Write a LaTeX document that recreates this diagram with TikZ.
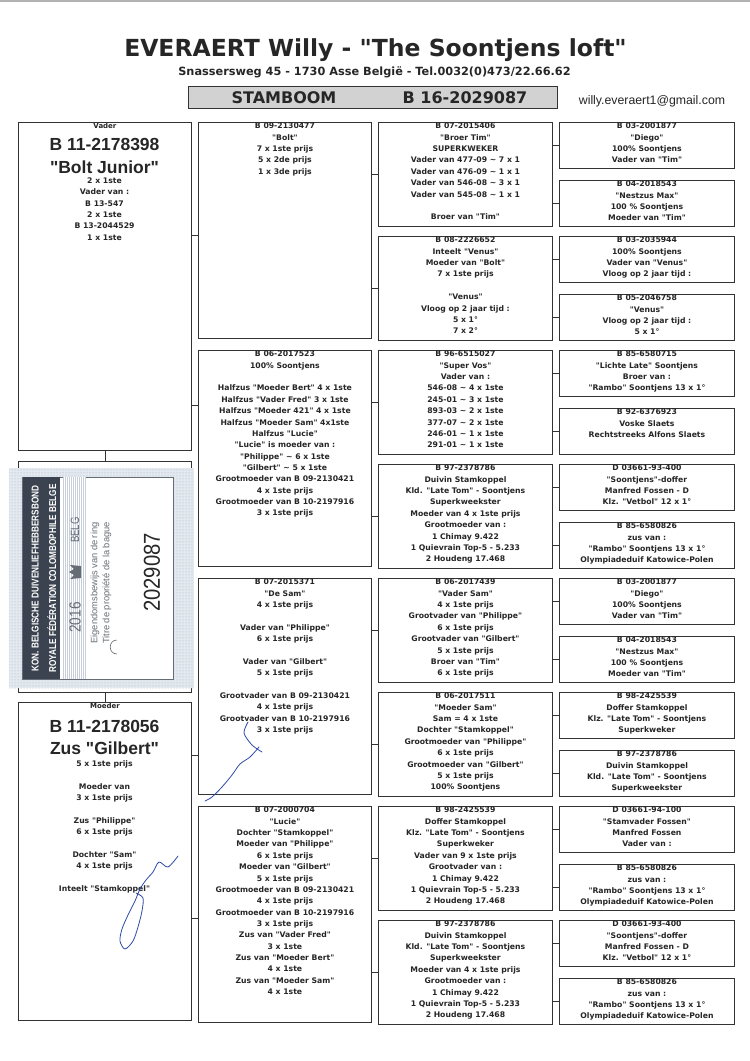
\documentclass[tikz,border=0pt]{standalone}
\usepackage{fontspec}
\setmainfont{DejaVu Sans}[Ligatures=TeXOff]
\newfontfamily\arialfont{Liberation Sans}[Ligatures=TeXOff]
\usetikzlibrary{patterns}

\definecolor{ink}{HTML}{262626}
\definecolor{frame}{HTML}{333333}
\definecolor{headgray}{HTML}{D2D2D2}
\definecolor{stampbg}{HTML}{E4E9EF}
\definecolor{stampdot}{HTML}{9DAFC3}
\definecolor{stampband}{HTML}{3C4350}
\definecolor{stampstrip}{HTML}{C6CFDA}
\definecolor{stampink}{HTML}{666C75}
\definecolor{signblue}{HTML}{2E4AA8}

\newcommand\boxfont{\bfseries\fontsize{7.7}{11.35}\selectfont}
\newcommand\tildech{\textasciitilde}

\begin{document}
\begin{tikzpicture}[x=1pt, y=-1pt,
  box/.style={draw=frame, line width=0.9pt, anchor=north west, inner sep=0pt, minimum width=173pt},
  gp/.style={box, minimum height=216pt},
  ggp/.style={box, minimum width=174pt, minimum height=104pt},
  gggp/.style={box, minimum width=175pt, minimum height=46pt},
  txt/.style={anchor=north, align=center, inner sep=0pt, font=\boxfont, text=ink},
  bignum/.style={anchor=base, inner sep=0pt, text=ink, font=\arialfont\bfseries\fontsize{17.5}{20}\selectfont},
  stamptxt/.style={rotate=90, inner sep=0pt, align=center},
  link/.style={draw=frame, line width=0.9pt},
  sign/.style={draw=signblue, line width=0.8pt, line cap=round}
]
\useasboundingbox (0,0) rectangle (750,1061);
\fill[white] (0,0) rectangle (750,1061);
\fill[black!30] (0,0) rectangle (750,1.5);

% header
\node[anchor=base, inner sep=0pt, text=ink, font=\bfseries\fontsize{23.5}{28}\selectfont] (title) at (375.5,56) {EVERAERT Willy - "The Soontjens loft"};
\node[anchor=base, inner sep=0pt, text=ink, font=\bfseries\fontsize{11.3}{14}\selectfont] (addr) at (374.5,75.5) {Snassersweg 45 - 1730 Asse België - Tel.0032(0)473/22.66.62};
\node[draw=frame, line width=0.9pt, fill=headgray, anchor=north west, inner sep=0pt, minimum width=369pt, minimum height=22pt] (head) at (188,86) {};
\node[anchor=base, inner sep=0pt, text=ink, font=\bfseries\fontsize{16}{20}\selectfont] (stam) at (284,103) {STAMBOOM};
\node[anchor=base, inner sep=0pt, text=ink, font=\bfseries\fontsize{16}{20}\selectfont] (ringnr) at (465,103) {B 16-2029087};
\node[anchor=base, inner sep=0pt, text=ink, font=\arialfont\fontsize{12.3}{14}\selectfont] (mail) at (652,104) {willy.everaert1@gmail.com};

% parents
\node[box, minimum height=328pt] (v) at (18,122) {};
\node[txt, font=\bfseries\fontsize{7}{8}\selectfont] (vlab) at ([yshift=-1pt]v.north) {Vader};
\node[bignum] (vnum) at (104.5,150) {B 11-2178398};
\node[bignum] (vname) at (104.5,173) {"Bolt Junior"};
\node[txt] (vtxt) at (104.5,177.5) {2 x 1ste\\Vader van :\\B 13-547\\2 x 1ste\\B 13-2044529\\1 x 1ste};

\node[box, minimum height=231pt] (kid) at (18,461) {};

\node[box, minimum height=318pt] (m) at (18,702) {};
\node[txt, font=\bfseries\fontsize{7}{8}\selectfont] (mlab) at ([yshift=-1pt]m.north) {Moeder};
\node[bignum] (mnum) at (104.5,732) {B 11-2178056};
\node[bignum] (mname) at (104.5,754.5) {Zus "Gilbert"};
\node[txt] (mtxt) at (104.5,760.5) {5 x 1ste prijs\\[11.35pt]Moeder van\\3 x 1ste prijs\\[11.35pt]Zus "Philippe"\\6 x 1ste prijs\\[11.35pt]Dochter "Sam"\\4 x 1ste prijs\\[11.35pt]Inteelt "Stamkoppel"};

% grandparents
\node[gp] (vv) at (198,122) {};
\node[txt] (vvt) at ([yshift=-1pt]vv.north) {B 09-2130477\\"Bolt"\\7 x 1ste prijs\\5 x 2de prijs\\1 x 3de prijs};
\node[gp] (vm) at (198,350) {};
\node[txt] (vmt) at ([yshift=-1pt]vm.north) {B 06-2017523\\100\% Soontjens\\[11.35pt]Halfzus "Moeder Bert" 4 x 1ste\\Halfzus "Vader Fred" 3 x 1ste\\Halfzus "Moeder 421" 4 x 1ste\\Halfzus "Moeder Sam" 4x1ste\\Halfzus "Lucie"\\"Lucie" is moeder van :\\"Philippe" \tildech{} 6 x 1ste\\"Gilbert" \tildech{} 5 x 1ste\\Grootmoeder van B 09-2130421\\4 x 1ste prijs\\Grootmoeder van B 10-2197916\\3 x 1ste prijs};
\node[gp] (mv) at (198,578) {};
\node[txt] (mvt) at ([yshift=-1pt]mv.north) {B 07-2015371\\"De Sam"\\4 x 1ste prijs\\[11.35pt]Vader van "Philippe"\\6 x 1ste prijs\\[11.35pt]Vader van "Gilbert"\\5 x 1ste prijs\\[11.35pt]Grootvader van B 09-2130421\\4 x 1ste prijs\\Grootvader van B 10-2197916\\3 x 1ste prijs};
\node[gp] (mm) at (198,806) {};
\node[txt] (mmt) at ([yshift=-1pt]mm.north) {B 07-2000704\\"Lucie"\\Dochter "Stamkoppel"\\Moeder van "Philippe"\\6 x 1ste prijs\\Moeder van "Gilbert"\\5 x 1ste prijs\\Grootmoeder van B 09-2130421\\4 x 1ste prijs\\Grootmoeder van B 10-2197916\\3 x 1ste prijs\\Zus van "Vader Fred"\\3 x 1ste\\Zus van "Moeder Bert"\\4 x 1ste\\Zus van "Moeder Sam"\\4 x 1ste};

% great-grandparents
\node[ggp] (vvv) at (378,122) {};
\node[txt] (vvvt) at ([yshift=-1pt]vvv.north) {B 07-2015406\\"Broer Tim"\\SUPERKWEKER\\Vader van 477-09 \tildech{} 7 x 1\\Vader van 476-09 \tildech{} 1 x 1\\Vader van 546-08 \tildech{} 3 x 1\\Vader van 545-08 \tildech{} 1 x 1\\[11.35pt]Broer van "Tim"};
\node[ggp] (vvm) at (378,236) {};
\node[txt] (vvmt) at ([yshift=-1pt]vvm.north) {B 08-2226652\\Inteelt "Venus"\\Moeder van "Bolt"\\7 x 1ste prijs\\[11.35pt]"Venus"\\Vloog op 2 jaar tijd :\\5 x 1°\\7 x 2°};
\node[ggp] (vmv) at (378,350) {};
\node[txt] (vmvt) at ([yshift=-1pt]vmv.north) {B 96-6515027\\"Super Vos"\\Vader van :\\546-08 \tildech{} 4 x 1ste\\245-01 \tildech{} 3 x 1ste\\893-03 \tildech{} 2 x 1ste\\377-07 \tildech{} 2 x 1ste\\246-01 \tildech{} 1 x 1ste\\291-01 \tildech{} 1 x 1ste};
\node[ggp] (vmm) at (378,464) {};
\node[txt] (vmmt) at ([yshift=-1pt]vmm.north) {B 97-2378786\\Duivin Stamkoppel\\Kld. "Late Tom" - Soontjens\\Superkweekster\\Moeder van 4 x 1ste prijs\\Grootmoeder van :\\1 Chimay 9.422\\1 Quievrain Top-5 - 5.233\\2 Houdeng 17.468};
\node[ggp] (mvv) at (378,578) {};
\node[txt] (mvvt) at ([yshift=-1pt]mvv.north) {B 06-2017439\\"Vader Sam"\\4 x 1ste prijs\\Grootvader van "Philippe"\\6 x 1ste prijs\\Grootvader van "Gilbert"\\5 x 1ste prijs\\Broer van "Tim"\\6 x 1ste prijs};
\node[ggp] (mvm) at (378,692) {};
\node[txt] (mvmt) at ([yshift=-1pt]mvm.north) {B 06-2017511\\"Moeder Sam"\\Sam = 4 x 1ste\\Dochter "Stamkoppel"\\Grootmoeder van "Philippe"\\6 x 1ste prijs\\Grootmoeder van "Gilbert"\\5 x 1ste prijs\\100\% Soontjens};
\node[ggp] (mmv) at (378,806) {};
\node[txt] (mmvt) at ([yshift=-1pt]mmv.north) {B 98-2425539\\Doffer Stamkoppel\\Klz. "Late Tom" - Soontjens\\Superkweker\\Vader van 9 x 1ste prijs\\Grootvader van :\\1 Chimay 9.422\\1 Quievrain Top-5 - 5.233\\2 Houdeng 17.468};
\node[ggp] (mmm) at (378,920) {};
\node[txt] (mmmt) at ([yshift=-1pt]mmm.north) {B 97-2378786\\Duivin Stamkoppel\\Kld. "Late Tom" - Soontjens\\Superkweekster\\Moeder van 4 x 1ste prijs\\Grootmoeder van :\\1 Chimay 9.422\\1 Quievrain Top-5 - 5.233\\2 Houdeng 17.468};

% great-great-grandparents
\node[gggp] (vvvv) at (559,122) {};
\node[txt] (vvvvt) at ([yshift=-1pt]vvvv.north) {B 03-2001877\\"Diego"\\100\% Soontjens\\Vader van "Tim"};
\node[gggp] (vvvm) at (559,180) {};
\node[txt] (vvvmt) at ([yshift=-1pt]vvvm.north) {B 04-2018543\\"Nestzus Max"\\100 \% Soontjens\\Moeder van "Tim"};
\node[gggp] (vvmv) at (559,236) {};
\node[txt] (vvmvt) at ([yshift=-1pt]vvmv.north) {B 03-2035944\\100\% Soontjens\\Vader van "Venus"\\Vloog op 2 jaar tijd :};
\node[gggp] (vvmm) at (559,294) {};
\node[txt] (vvmmt) at ([yshift=-1pt]vvmm.north) {B 05-2046758\\"Venus"\\Vloog op 2 jaar tijd :\\5 x 1°};
\node[gggp] (vmvv) at (559,350) {};
\node[txt] (vmvvt) at ([yshift=-1pt]vmvv.north) {B 85-6580715\\"Lichte Late" Soontjens\\Broer van :\\"Rambo" Soontjens 13 x 1°};
\node[gggp] (vmvm) at (559,408) {};
\node[txt] (vmvmt) at ([yshift=-1pt]vmvm.north) {B 92-6376923\\Voske Slaets\\Rechtstreeks Alfons Slaets};
\node[gggp] (vmmv) at (559,464) {};
\node[txt] (vmmvt) at ([yshift=-1pt]vmmv.north) {D 03661-93-400\\"Soontjens"-doffer\\Manfred Fossen - D\\Klz. "Vetbol" 12 x 1°};
\node[gggp] (vmmm) at (559,522) {};
\node[txt] (vmmmt) at ([yshift=-1pt]vmmm.north) {B 85-6580826\\zus van :\\"Rambo" Soontjens 13 x 1°\\Olympiadeduif Katowice-Polen};
\node[gggp] (mvvv) at (559,578) {};
\node[txt] (mvvvt) at ([yshift=-1pt]mvvv.north) {B 03-2001877\\"Diego"\\100\% Soontjens\\Vader van "Tim"};
\node[gggp] (mvvm) at (559,636) {};
\node[txt] (mvvmt) at ([yshift=-1pt]mvvm.north) {B 04-2018543\\"Nestzus Max"\\100 \% Soontjens\\Moeder van "Tim"};
\node[gggp] (mvmv) at (559,692) {};
\node[txt] (mvmvt) at ([yshift=-1pt]mvmv.north) {B 98-2425539\\Doffer Stamkoppel\\Klz. "Late Tom" - Soontjens\\Superkweker};
\node[gggp] (mvmm) at (559,750) {};
\node[txt] (mvmmt) at ([yshift=-1pt]mvmm.north) {B 97-2378786\\Duivin Stamkoppel\\Kld. "Late Tom" - Soontjens\\Superkweekster};
\node[gggp] (mmvv) at (559,806) {};
\node[txt] (mmvvt) at ([yshift=-1pt]mmvv.north) {D 03661-94-100\\"Stamvader Fossen"\\Manfred Fossen\\Vader van :};
\node[gggp] (mmvm) at (559,864) {};
\node[txt] (mmvmt) at ([yshift=-1pt]mmvm.north) {B 85-6580826\\zus van :\\"Rambo" Soontjens 13 x 1°\\Olympiadeduif Katowice-Polen};
\node[gggp] (mmmv) at (559,920) {};
\node[txt] (mmmvt) at ([yshift=-1pt]mmmv.north) {D 03661-93-400\\"Soontjens"-doffer\\Manfred Fossen - D\\Klz. "Vetbol" 12 x 1°};
\node[gggp] (mmmm) at (559,978) {};
\node[txt] (mmmmt) at ([yshift=-1pt]mmmm.north) {B 85-6580826\\zus van :\\"Rambo" Soontjens 13 x 1°\\Olympiadeduif Katowice-Polen};

% links
\draw[link] (v.south) -- (kid.north);
\draw[link] (kid.south) -- (m.north);
\draw[link] (v.east |- 0,235) -- (vv.west |- 0,235);
\draw[link] (v.east |- 0,405) -- (vm.west |- 0,405);
\draw[link] (m.east |- 0,755) -- (mv.west |- 0,755);
\draw[link] (m.east |- 0,918) -- (mm.west |- 0,918);
\draw[link] (vv.east |- vvv.west) -- (vvv.west);
\draw[link] (vv.east |- vvm.west) -- (vvm.west);
\draw[link] (vm.east |- vmv.west) -- (vmv.west);
\draw[link] (vm.east |- vmm.west) -- (vmm.west);
\draw[link] (mv.east |- mvv.west) -- (mvv.west);
\draw[link] (mv.east |- mvm.west) -- (mvm.west);
\draw[link] (mm.east |- mmv.west) -- (mmv.west);
\draw[link] (mm.east |- mmm.west) -- (mmm.west);
\draw[link] (vvv.east |- vvvv.west) -- (vvvv.west);
\draw[link] (vvv.east |- vvvm.west) -- (vvvm.west);
\draw[link] (vvm.east |- vvmv.west) -- (vvmv.west);
\draw[link] (vvm.east |- vvmm.west) -- (vvmm.west);
\draw[link] (vmv.east |- vmvv.west) -- (vmvv.west);
\draw[link] (vmv.east |- vmvm.west) -- (vmvm.west);
\draw[link] (vmm.east |- vmmv.west) -- (vmmv.west);
\draw[link] (vmm.east |- vmmm.west) -- (vmmm.west);
\draw[link] (mvv.east |- mvvv.west) -- (mvvv.west);
\draw[link] (mvv.east |- mvvm.west) -- (mvvm.west);
\draw[link] (mvm.east |- mvmv.west) -- (mvmv.west);
\draw[link] (mvm.east |- mvmm.west) -- (mvmm.west);
\draw[link] (mmv.east |- mmvv.west) -- (mmvv.west);
\draw[link] (mmv.east |- mmvm.west) -- (mmvm.west);
\draw[link] (mmm.east |- mmmv.west) -- (mmmv.west);
\draw[link] (mmm.east |- mmmm.west) -- (mmmm.west);

% ring certificate sticker
\fill[stampbg] (9,468) rectangle (194,688);
\fill[pattern=dots, pattern color=stampdot] (9,468) rectangle (194,688);
\filldraw[fill=white, draw=stampink, line width=0.5pt] (22,477) rectangle (173,679);
\fill[stampband] (23,477) rectangle (60,679);
\fill[stampstrip] (63,477) rectangle (86,679);
\foreach \x in {64.5,66.5,...,85} \draw[white, line width=0.4pt] (\x,477) -- (\x,679);
\node[stamptxt, text=white, font=\arialfont\bfseries\fontsize{10}{17.5}\selectfont] (fed) at (44,578.5) {\scalebox{0.82}[1]{KON. BELGISCHE DUIVENLIEFHEBBERSBOND}\\\scalebox{0.82}[1]{ROYALE FÉDÉRATION COLOMBOPHILE BELGE}};
\node[stamptxt, text=stampink, font=\arialfont\fontsize{16}{18}\selectfont] (yr) at (75,617.5) {\scalebox{0.85}[1]{2016}};
\node[stamptxt, text=stampink, font=\arialfont\fontsize{12}{14}\selectfont] (belg) at (75,530) {\scalebox{0.8}[1]{BELG}};
\fill[stampink] (81,566) -- (70,565) -- (74,569) -- (69,572) -- (74,575) -- (70,579) -- (81,578) -- cycle;
\node[stamptxt, text=stampink, font=\arialfont\fontsize{9.3}{12}\selectfont] (own) at (101,583) {Eigendomsbewijs van de ring\\Titre de propriété de la bague};
\draw[stampink, line width=0.6pt] (117,640) .. controls (108,640) and (108,654) .. (117,654);
\node[stamptxt, text=ink, font=\arialfont\fontsize{23}{26}\selectfont] (ringno) at (152,572.5) {\scalebox{0.88}[1]{2029087}};

% signature
\draw[sign] plot[smooth] coordinates {(248,722) (244,733) (252,745) (262,752)};
\draw[sign] plot[smooth] coordinates {(259,747) (250,757) (240,764) (232,775) (222,787) (212,797) (205,801)};
\draw[sign] plot[smooth] coordinates {(178,856) (168,867) (159,862) (153,872) (146,880) (140,889) (135,901) (128,915) (122,929) (120,941) (125,949) (133,941) (138,927) (142,911) (143,898) (136,893)};
\end{tikzpicture}
\end{document}
